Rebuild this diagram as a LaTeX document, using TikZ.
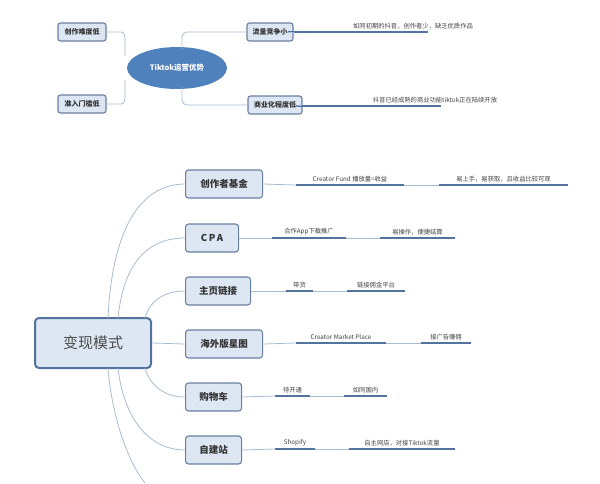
\documentclass[tikz,border=0pt]{standalone}
\usepackage{fontspec}
\setmainfont{Noto Sans CJK SC}
\usetikzlibrary{shapes.geometric}
\definecolor{bfill}{RGB}{221,231,243}
\definecolor{bdraw}{RGB}{105,128,160}
\definecolor{ell}{RGB}{79,129,189}
\definecolor{ul}{RGB}{84,114,158}
\definecolor{conn}{RGB}{168,188,208}
\begin{document}
\begin{tikzpicture}[x=1pt,y=-1pt,
 sbox/.style={draw=bdraw,line width=1.1pt,fill=bfill,rounded corners=2.5pt,font=\fontsize{7}{8}\selectfont\bfseries,text=black!80,minimum height=18pt,inner xsep=4pt},
 mbox/.style={draw=bdraw,line width=1.1pt,fill=bfill,rounded corners=3pt,font=\fontsize{9.5}{11}\selectfont\bfseries,text=black!80,minimum height=28pt,inner xsep=8pt},
 lbl/.style={font=\fontsize{6.3}{7}\selectfont,text=black!75,inner sep=1pt},
 ulin/.style={draw=ul,line width=1.8pt},
 cn/.style={draw=conn,line width=0.8pt}]
\useasboundingbox (0,0) rectangle (600,483);
% top part
\node[ellipse,fill=ell,minimum width=100pt,minimum height=42pt,text=white,font=\fontsize{7.5}{9}\selectfont\bfseries] (e) at (177,68) {Tiktok运营优势};
\node[sbox,minimum width=48pt] (a1) at (82,32) {创作难度低};
\node[sbox,minimum width=48pt] (a2) at (82,104) {准入门槛低};
\node[sbox,minimum width=46pt] (b1) at (270,32) {流量竞争小};
\node[sbox,minimum width=54pt] (b2) at (275,105) {商业化程度低};
\draw[cn] (a1.east) -- (121,32) to[out=0,in=90] (125,40) -- (125,56);
\draw[cn] (a2.east) -- (121,104) to[out=0,in=-90] (125,96) -- (125,80);
\draw[cn] (b1.west) -- (187,32) to[out=180,in=90] (182,37) -- (182,49);
\draw[cn] (b2.west) -- (187,105) to[out=180,in=-90] (182,100) -- (182,87);
\node[lbl,anchor=south] (t1) at (413,30) {如同初期的抖音，创作者少，缺乏优质作品};
\coordinate (t1a) at (288,32); \coordinate (t1b) at (428,32);
\draw[ulin] (t1a) -- (t1b);
\draw[cn] (b1.east) -- (t1a);
\node[lbl,anchor=south] (t2) at (435,104) {抖音已经成熟的商业功能tiktok正在陆续开放};
\coordinate (t2a) at (296,106); \coordinate (t2b) at (441,106);
\draw[ulin] (t2a) -- (t2b);
\draw[cn] (b2.east) -- (t2a);
% bottom part
\node[draw=ul,line width=2pt,fill=bfill,rounded corners=4pt,minimum width=116pt,minimum height=50pt,font=\fontsize{15}{17}\selectfont,text=black!70] (m) at (93,343) {变现模式};
\node[mbox,minimum width=77pt,anchor=west] (c1) at (185,184) {创作者基金};
\node[mbox,minimum width=53pt,anchor=west] (c2) at (185,238) {C\,P\,A};
\node[mbox,minimum width=65pt,anchor=west] (c3) at (185,291) {主页链接};
\node[mbox,minimum width=77pt,anchor=west] (c4) at (185,344) {海外版星图};
\node[mbox,minimum width=56pt,anchor=west] (c5) at (185,397) {购物车};
\node[mbox,minimum width=56pt,anchor=west] (c6) at (185,450) {自建站};
\coordinate (c7) at (145,483);
\draw[cn] (108,318) .. controls (112,230) and (140,184) .. (c1.west);
\draw[cn] (118,318) .. controls (124,260) and (150,238) .. (c2.west);
\draw[cn] (145,318) .. controls (150,300) and (165,291) .. (c3.west);
\draw[cn] (m.east) -- (c4.west);
\draw[cn] (145,368) .. controls (150,386) and (165,397) .. (c5.west);
\draw[cn] (118,368) .. controls (124,420) and (150,450) .. (c6.west);
\draw[cn] (108,368) .. controls (112,420) and (130,465) .. (c7);
\newcommand\leaf[5]{% name, y, x1, x2, text
 \node[lbl,anchor=south] (#1) at ({(#3+#4)/2},#2-2) {#5};
 \coordinate (#1a) at (#3,#2); \coordinate (#1b) at (#4,#2);
 \draw[ulin] (#1a) -- (#1b);}
\leaf{d11}{185}{296}{404}{Creator Fund 播放量=收益}
\leaf{d12}{185}{439}{568}{易上手，易获取，且收益比较可观}
\draw[cn] (c1.east) -- (d11a); \draw[cn] (d11b) -- (d12a);
\leaf{d21}{238}{272}{346}{合作App下载推广}
\leaf{d22}{238}{380}{455}{易操作，便捷结算}
\draw[cn] (c2.east) -- (d21a); \draw[cn] (d21b) -- (d22a);
\leaf{d31}{291}{286}{313}{带货}
\leaf{d32}{291}{347}{405}{链接佣金平台}
\draw[cn] (c3.east) -- (d31a); \draw[cn] (d31b) -- (d32a);
\leaf{d41}{343}{296}{386}{Creator Market Place}
\leaf{d42}{343}{421}{471}{接广告赚佣}
\draw[cn] (c4.east) -- (d41a); \draw[cn] (d41b) -- (d42a);
\leaf{d51}{396}{275}{310}{待开通}
\leaf{d52}{396}{344}{387}{如同国内}
\draw[cn] (c5.east) -- (d51a); \draw[cn] (d51b) -- (d52a);
\leaf{d61}{449}{275}{315}{Shopify}
\leaf{d62}{449}{349}{455}{自主网店，对接Tiktok流量}
\draw[cn] (c6.east) -- (d61a); \draw[cn] (d61b) -- (d62a);
\end{tikzpicture}
\end{document}
